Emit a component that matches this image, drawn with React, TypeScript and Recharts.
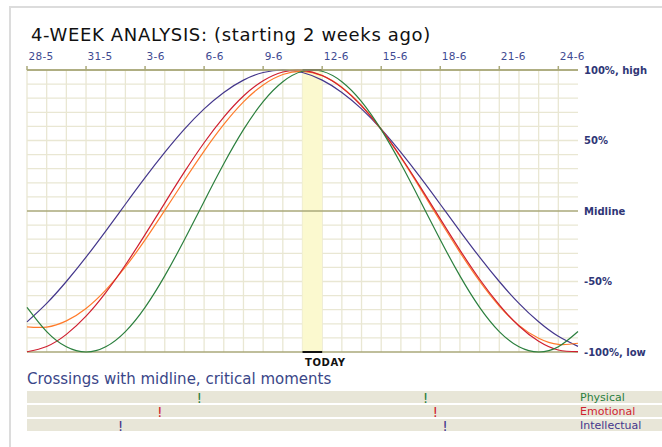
import React from 'react';
import {
  ComposedChart, Line, XAxis, YAxis, CartesianGrid, ReferenceLine, ReferenceArea,
  ScatterChart, Scatter
} from 'recharts';

// days since 28-5 (day 0) .. 25-6 (day 28)
const days = [0, 1, 2, 3, 4, 5, 6, 7, 8, 9, 10, 11, 12, 13, 14, 15, 16, 17, 18, 19, 20, 21, 22, 23, 24, 25, 26, 27, 28];

// values in %
const physical = [-68.3, -85.5, -96.3, -100, -96.3, -85.5, -68.3, -46.0, -20.4, 6.8, 33.5, 57.7, 77.6, 91.7, 99.1, 99.1, 91.7, 77.6, 57.7, 33.5, 6.8, -20.4, -46.0, -68.3, -85.5, -96.3, -100, -96.3, -85.5];
const emotional = [-99.8, -96.1, -87.5, -74.6, -57.9, -38.3, -16.8, 5.6, 27.7, 48.4, 66.6, 81.6, 92.4, 98.6, 99.8, 96.1, 87.5, 74.6, 57.9, 38.3, 16.8, -5.6, -27.7, -48.4, -66.6, -81.6, -92.4, -98.6, -99.8];
const intellectual = [-78.6, -65.5, -50.0, -32.7, -14.2, 4.8, 23.6, 41.5, 58.0, 72.4, 84.1, 92.8, 98.2, 100, 98.2, 92.8, 84.1, 72.4, 58.0, 41.5, 23.6, 4.8, -14.2, -32.7, -50.0, -65.5, -78.6, -88.9, -96.0];
const average = [-82.2, -82.3, -77.9, -69.1, -56.1, -39.7, -20.5, 0.4, 21.8, 42.5, 61.4, 77.4, 89.4, 96.8, 99.0, 96.0, 87.8, 74.8, 57.9, 37.8, 15.7, -7.1, -29.3, -49.8, -67.4, -81.1, -90.3, -94.6, -93.8];

const xTicks = [0, 3, 6, 9, 12, 15, 18, 21, 24, 27];
const xLabels = ['28-5', '31-5', '3-6', '6-6', '9-6', '12-6', '15-6', '18-6', '21-6', '24-6'];
const yTicks = [100, 50, 0, -50, -100];
const yLabels = ['100%, high', '50%', 'Midline', '-50%', '-100%, low'];
const gridDays = days.slice(0, 28);
const gridLevels = [-90, -80, -70, -60, -50, -40, -30, -20, -10, 10, 20, 30, 40, 50, 60, 70, 80, 90];
const today = 14;

// midline crossings (day positions)
const rhythmNames = ['Physical', 'Emotional', 'Intellectual'];
const rowTicks = [0.5, 1.5, 2.5];
const physicalCrossings = [8.75, 20.25];
const emotionalCrossings = [6.75, 20.75];
const intellectualCrossings = [4.75, 21.25];

const GREEN = '#2b7f3e';
const RED = '#cf1f30';
const PURPLE = '#44378c';
const ORANGE = '#ff7b2b';
const OLIVE = '#aaa97a';
const NAVY = '#2f3676';
const rhythmColors = [GREEN, RED, PURPLE];

const chartData = days.map((d, i) => ({
  day: d,
  physical: physical[i],
  emotional: emotional[i],
  intellectual: intellectual[i],
  average: average[i],
}));

const crossingSets = [physicalCrossings, emotionalCrossings, intellectualCrossings].map((list, row) =>
  list.map((day) => ({ day, row: rowTicks[row] }))
);

const TopTick = ({ x, y, payload }: any) => {
  const idx = xTicks.indexOf(payload.value);
  return (
    <text x={x + 1.5} y={y - 4} fill="#3e4a92" fontSize={10.5} letterSpacing={0.3} textAnchor="start">
      {xLabels[idx]}
    </text>
  );
};

const RightTick = ({ x, y, payload }: any) => {
  const idx = yTicks.indexOf(payload.value);
  return (
    <text x={x} y={y} dy={3.5} fill={NAVY} fontSize={10} fontWeight="bold" textAnchor="start">
      {yLabels[idx]}
    </text>
  );
};

const RowTick = ({ x, y, payload }: any) => {
  const idx = rowTicks.indexOf(payload.value);
  return (
    <text x={x} y={y} dy={4} fill={rhythmColors[idx]} fontSize={11} textAnchor="start">
      {rhythmNames[idx]}
    </text>
  );
};

const TodayLabel = ({ viewBox }: any) => (
  <text x={viewBox.x + 2.5} y={viewBox.y + 14} fontSize={10} fontWeight="bold" letterSpacing={0.6} fill="#111">
    TODAY
  </text>
);

const Bang = ({ cx, cy, fill }: any) => (
  <text x={cx} y={cy + 5.5} textAnchor="middle" fontSize={14} fill={fill}>!</text>
);

export default function App() {
  return (
    <div style={{ position: 'absolute', left: 0, top: 0, width: 662, height: 447, overflow: 'hidden', background: '#fff', fontFamily: 'DejaVu Sans' }}>
      <div style={{ position: 'absolute', left: 9, top: 6, width: 700, height: 500, borderLeft: '2px solid #dcdcdc', borderTop: '2px solid #dcdcdc' }} />
      <div style={{ position: 'absolute', left: 31, top: 26, fontSize: 18, lineHeight: '18px', letterSpacing: 0.65, color: '#111', whiteSpace: 'nowrap' }}>
        4-WEEK ANALYSIS: (starting 2 weeks ago)
      </div>

      <div style={{ position: 'absolute', left: 0, top: 0 }}>
        <ComposedChart width={662} height={372} data={chartData} margin={{ top: 0, right: 0, bottom: 20, left: 27 }}>
          <ReferenceArea x1={today} x2={today + 1} y1={-100} y2={100} fill="#fbf9cf" fillOpacity={1} stroke="none" />
          <CartesianGrid stroke="#e9e7d3" strokeWidth={1.3} verticalValues={gridDays} horizontalValues={gridLevels} />
          <XAxis
            type="number"
            dataKey="day"
            orientation="top"
            domain={[0, 28]}
            ticks={xTicks}
            interval={0}
            height={70}
            tickSize={4}
            tickMargin={2}
            axisLine={{ stroke: OLIVE, strokeWidth: 1.5 }}
            tickLine={{ stroke: OLIVE, strokeWidth: 1.5 }}
            tick={<TopTick />}
          />
          <YAxis
            type="number"
            orientation="right"
            domain={[-100, 100]}
            ticks={yTicks}
            interval={0}
            width={84}
            tickSize={4}
            tickMargin={2}
            tickLine={false}
            axisLine={false}
            tick={<RightTick />}
          />
          <ReferenceLine y={100} stroke={OLIVE} strokeWidth={1.5} />
          <ReferenceLine y={0} stroke={OLIVE} strokeWidth={1.5} />
          <ReferenceLine y={-100} stroke={OLIVE} strokeWidth={1.5} />
          <Line type="natural" dataKey="intellectual" stroke={PURPLE} strokeWidth={1.2} dot={false} isAnimationActive={false} />
          <Line type="natural" dataKey="average" stroke={ORANGE} strokeWidth={1.2} dot={false} isAnimationActive={false} />
          <Line type="natural" dataKey="emotional" stroke={RED} strokeWidth={1.2} dot={false} isAnimationActive={false} />
          <Line type="natural" dataKey="physical" stroke={GREEN} strokeWidth={1.2} dot={false} isAnimationActive={false} />
          <ReferenceLine segment={[{ x: today, y: 100 }, { x: today + 1, y: 100 }]} stroke="#111" strokeWidth={2} />
          <ReferenceLine segment={[{ x: today, y: -100 }, { x: today + 1, y: -100 }]} stroke="#111" strokeWidth={2} label={<TodayLabel />} />
        </ComposedChart>
      </div>

      <div style={{ position: 'absolute', left: 27, top: 371.5, fontSize: 15, lineHeight: '15px', color: '#3a4688', whiteSpace: 'nowrap' }}>
        Crossings with midline, critical moments
      </div>

      {rhythmNames.map((name, i) => (
        <div key={name} style={{ position: 'absolute', left: 27, top: 391 + i * 14, width: 640, height: 12, background: '#e8e6d8' }} />
      ))}

      <div style={{ position: 'absolute', left: 0, top: 390 }}>
        <ScatterChart width={662} height={42} margin={{ top: 0, right: 0, bottom: 0, left: 27 }}>
          <XAxis type="number" dataKey="day" domain={[0, 28]} hide />
          <YAxis
            type="number"
            dataKey="row"
            orientation="right"
            domain={[0, 3]}
            reversed
            ticks={rowTicks}
            interval={0}
            width={84}
            tickSize={0}
            tickMargin={2}
            tickLine={false}
            axisLine={false}
            tick={<RowTick />}
          />
          {crossingSets.map((set, i) => (
            <Scatter key={rhythmNames[i]} data={set} fill={rhythmColors[i]} shape={<Bang />} isAnimationActive={false} />
          ))}
        </ScatterChart>
      </div>
    </div>
  );
}
